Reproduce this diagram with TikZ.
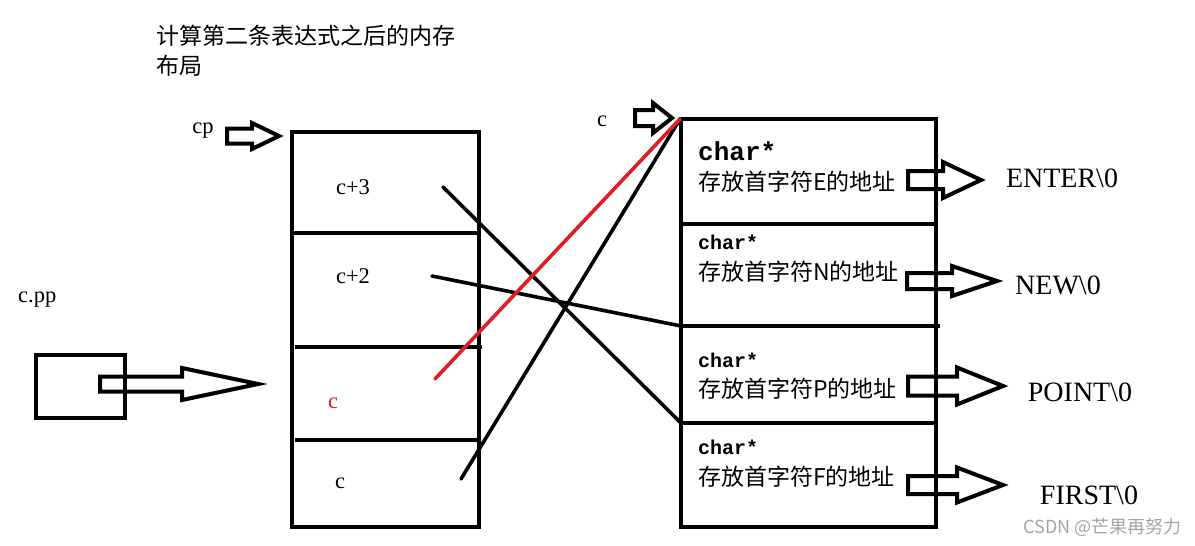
\documentclass[tikz,border=0pt]{standalone}
\usepackage{fontspec}
\setmainfont{Liberation Serif}
\newfontfamily\cjk{Noto Sans CJK SC}
\newfontfamily\monof{Liberation Mono}
\tikzset{
  boxline/.style={line width=4.5pt},
  divline/.style={line width=4pt},
  link/.style={line width=3.6pt},
  redlink/.style={line width=3.6pt, draw=linkred},
  arrowline/.style={line width=4pt, line join=miter},
  txt/.style={inner sep=0pt, font=\fontsize{22.5}{25}\selectfont},
  lbl/.style={inner sep=0pt, anchor=west},
  chartxt/.style={lbl, font=\monof\bfseries\fontsize{20}{22}\selectfont},
  cjktxt/.style={lbl, font=\cjk\fontsize{23}{26}\selectfont},
  strtxt/.style={inner sep=0pt, font=\fontsize{28}{30}\selectfont},
}
\definecolor{linkred}{RGB}{222,30,36}
\definecolor{wmgray}{RGB}{165,165,165}
\newcommand{\blockarr}[6]{% tail x, y, tip x, shaft half, head half, head start x
  \draw[arrowline] ({#1},{#2-#4}) -- ({#6},{#2-#4}) -- ({#6},{#2-#5}) -- ({#3},{#2})
    -- ({#6},{#2+#5}) -- ({#6},{#2+#4}) -- ({#1},{#2+#4}) -- cycle;}
\begin{document}
\begin{tikzpicture}[x=1pt,y=-1pt]
\useasboundingbox[fill=white] (0,0) rectangle (1195,546);

% title
\node[lbl, font=\cjk\fontsize{23}{26}\selectfont] (title1) at (156,36) {计算第二条表达式之后的内存};
\node[lbl, font=\cjk\fontsize{23}{26}\selectfont] (title2) at (156,66) {布局};

% cpp box and arrow
\node[txt, anchor=west] (cpplbl) at (18,300) {c.pp};
\draw[boxline] (36,355) rectangle (125,418);
\blockarr{100}{384}{258}{7.5}{16}{182}

% cp arrow
\node[txt] (cplbl) at (203,131) {cp};
\blockarr{227}{136}{279}{7.5}{13}{252}

% left column
\draw[boxline] (292,132) rectangle (479,527);
\draw[divline] (292,233) -- (479,233);
\draw[divline] (295,347) -- (482,347);
\draw[divline] (295,440) -- (479,440);
\node[txt] (c3) at (353,187) {c+3};
\node[txt] (c2) at (353,276) {c+2};
\node[txt, text=linkred] (cred) at (333,403) {c};
\node[txt] (c0) at (340,483) {c};

% c arrow at top right
\node[txt] (clbl) at (602,121) {c};
\blockarr{635}{118}{672}{8}{15}{653}

% right column
\draw[boxline] (681,119) rectangle (936,527);
\draw[divline] (681,224) -- (936,224);
\draw[divline] (681,326) -- (940,326);
\draw[divline] (681,423) -- (936,423);

\node[lbl, font=\monof\bfseries\fontsize{26}{28}\selectfont] (ch1) at (698,151) {char*};
\node[cjktxt] (ad1) at (698,182) {存放首字符E的地址};
\node[chartxt] (ch2) at (698,242) {char*};
\node[cjktxt] (ad2) at (698,272) {存放首字符N的地址};
\node[chartxt] (ch3) at (698,360) {char*};
\node[cjktxt] (ad3) at (698,389) {存放首字符P的地址};
\node[chartxt] (ch4) at (698,447) {char*};
\node[cjktxt] (ad4) at (698,477) {存放首字符F的地址};

% arrows to strings
\blockarr{908}{180}{981}{9}{18}{943}
\blockarr{907}{281}{997}{8}{15}{952}
\blockarr{908}{386}{1003}{9.5}{18.5}{957}
\blockarr{908}{485}{1003}{9}{17.5}{957}
\node[strtxt] (s1) at (1062,178) {ENTER\textbackslash 0};
\node[strtxt] (s2) at (1058,285) {NEW\textbackslash 0};
\node[strtxt] (s3) at (1080,392) {POINT\textbackslash 0};
\node[strtxt] (s4) at (1089,495) {FIRST\textbackslash 0};

% crossing links
\coordinate (p3) at (443,187);
\coordinate (p2) at (432,276);
\coordinate (pr) at (435,379);
\coordinate (pc) at (461,479);
\coordinate (q3) at (681,423);
\coordinate (q2) at (681,326);
\coordinate (q0) at (680,119);
\draw[link, line cap=round] (p3) -- (q3);
\draw[link, line cap=round] (p2) -- (q2);
\draw[link, line cap=round] (pc) -- (q0);
\draw[redlink, line cap=round] (pr) -- (q0);

% watermark
\node[inner sep=0pt, anchor=east, text=wmgray, font=\cjk\fontsize{18}{20}\selectfont] (wm) at (1182,527) {CSDN @芒果再努力};
\end{tikzpicture}
\end{document}
